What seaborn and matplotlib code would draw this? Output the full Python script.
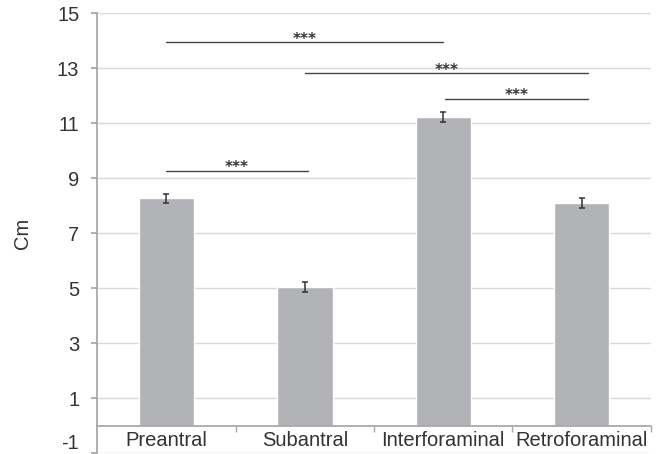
import matplotlib
matplotlib.use('Agg')
import matplotlib.pyplot as plt
import seaborn as sns
import pandas as pd

# 数据
categories = ['Preantral', 'Subantral', 'Interforaminal', 'Retroforaminal']
means = [8.27, 5.04, 11.22, 8.09]
errors = [0.17, 0.18, 0.18, 0.18]

# 显著性标注: (起点类别位置, 终点类别位置, 高度, 文字)
sig_starts = [0.0, 1.0, 2.01, 0.0]
sig_ends = [2.0, 3.05, 3.05, 1.02]
sig_heights = [13.95, 12.82, 11.89, 9.28]
sig_labels = ['***', '***', '***', '***']

y_ticks = [-1, 1, 3, 5, 7, 9, 11, 13, 15]

sns.set_theme(style='white')
plt.rcParams['font.family'] = ['Liberation Sans', 'DejaVu Sans']
plt.rcParams['axes.unicode_minus'] = False

df = pd.DataFrame({'cat': categories, 'mean': means, 'err': errors})

fig = plt.figure(figsize=(6.68, 4.54), dpi=100)
ax = fig.add_axes([0.1457, 0.0015, 0.8284, 0.9692])

sns.barplot(data=df, x='cat', y='mean', color='#b2b3b7', width=0.4,
            saturation=1, errorbar=None, ax=ax, zorder=2)
ax.errorbar(range(len(categories)), df['mean'], yerr=df['err'], fmt='none',
            ecolor='#333333', elinewidth=1.1, capsize=2, capthick=1.1, zorder=3)

# 显著性横线和星号
for x0, x1, h, lab in zip(sig_starts, sig_ends, sig_heights, sig_labels):
    ax.plot([x0, x1], [h, h], color='#444444', lw=1.0, zorder=3)
    ax.text((x0 + x1) / 2, h - 0.06, lab, ha='center', va='baseline',
            fontsize=11, fontweight='bold', color='#333333', fontfamily='DejaVu Sans')

ax.set_xlim(-0.5, 3.5)
ax.set_ylim(-1, 15)
ax.set_yticks(y_ticks)
ax.grid(axis='y', color='#d9d9d9', lw=1, zorder=0)
ax.set_axisbelow(True)

for s in ['top', 'right']:
    ax.spines[s].set_visible(False)
ax.spines['left'].set_color('#a6a6a6')
ax.spines['bottom'].set_color('#a6a6a6')
ax.spines['bottom'].set_position(('data', 0))

ax.set_xticks(range(len(categories)))
ax.set_xticklabels(categories, fontsize=14.5, color='#333333')
ax.set_xticks([0.5, 1.5, 2.5, 3.5], minor=True)
ax.tick_params(axis='x', which='major', length=0, pad=4)
ax.tick_params(axis='x', which='minor', length=4, color='#a6a6a6', direction='out', bottom=True)
ax.tick_params(axis='y', length=4, color='#a6a6a6', left=True, pad=9, labelsize=14.5, labelcolor='#333333')

# 最下面的 -1 往上挪一点, 免得被裁掉
ax.get_yticklabels()[0].set_va('bottom')

ax.set_xlabel('')
ax.set_ylabel('Cm', fontsize=14.5, color='#333333')
ax.yaxis.set_label_coords(-0.118, 0.5)

fig.savefig('out.png', dpi=100)
